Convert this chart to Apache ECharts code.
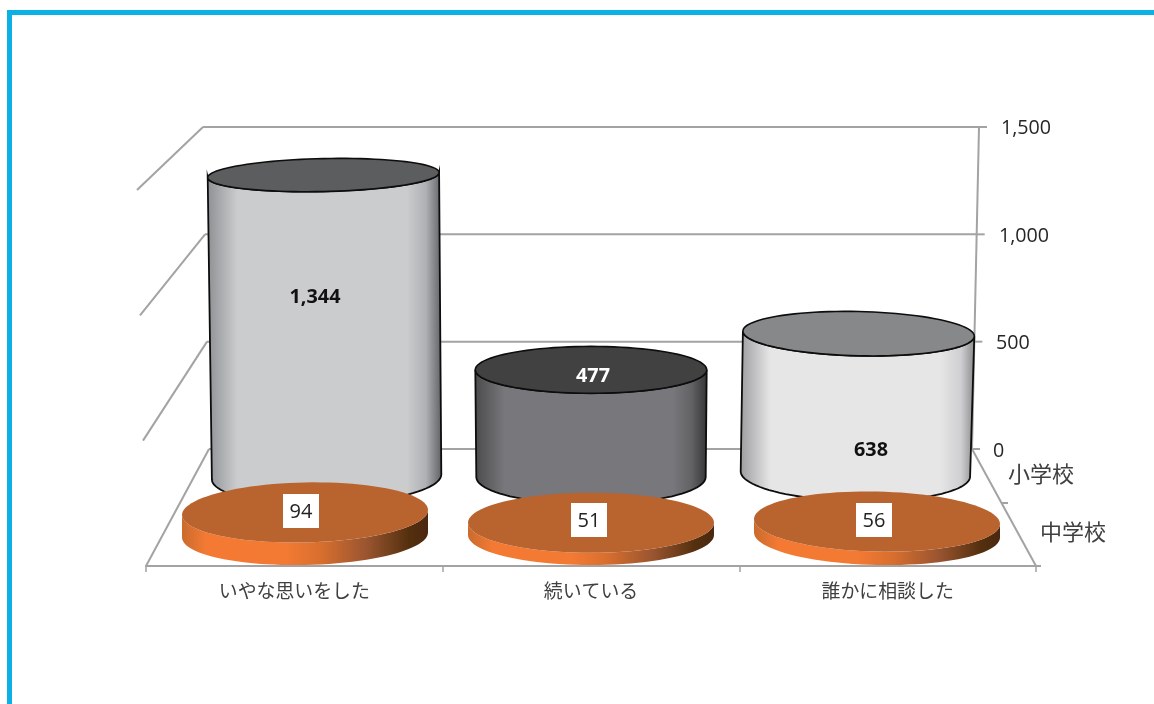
<!DOCTYPE html>
<html>
<head>
<meta charset="utf-8">
<style>html,body{margin:0;padding:0;background:#fff}#c{width:1154px;height:704px}</style>
<script src="https://cdn.jsdelivr.net/npm/echarts@6/dist/echarts.min.js"></script>
</head>
<body>
<div id="c"></div>
<script>
var categories = ['いやな思いをした', '続いている', '誰かに相談した'];
var elementary = [1344, 477, 638];
var juniorHigh = [94, 51, 56];
var depthLabels = ['中学校', '小学校'];
var valueTicks = [0, 500, 1000, 1500];

var FONT = '"Open Sans","Noto Sans CJK JP",sans-serif';
var JP = '"Noto Sans CJK JP","Noto Sans",sans-serif';
var GRID = '#a3a3a3';
var CENTER_X = 591;
var TILT = 0.0216 / 266;

var cylStyles = [
  {top:'#5c5d5f', txt:'#111', dx:-10, dy:122,
   side:[[0,'#8e8f92'],[0.13,'#cbccce'],[0.85,'#cbccce'],[0.93,'#b0b1b4'],[1,'#5e5f62']]},
  {top:'#414142', txt:'#fff', dx:2, dy:7,
   side:[[0,'#4a4a4c'],[0.13,'#78787c'],[0.85,'#78787c'],[0.93,'#636366'],[1,'#333335']]},
  {top:'#87888a', txt:'#111', dx:14, dy:117,
   side:[[0,'#9c9c9f'],[0.13,'#e6e6e7'],[0.85,'#e6e6e7'],[0.94,'#cfcfd1'],[1,'#88888b']]}
];
var discSide = [[0,'#c96b2e'],[0.1,'#f47a33'],[0.42,'#f37a33'],[0.56,'#d96f2e'],[0.75,'#9a5530'],[0.92,'#55300f'],[1,'#4a2710']];
var discLabelOffset = [[-4,-1.4],[-2,-2.8],[-3,-1.6]];

function arc(cx, cy, rx, ry, tilt, a, b, n) {
  var pts = [];
  for (var k = 0; k <= n; k++) {
    var t = a + (b - a) * k / n;
    var dx = rx * Math.cos(t);
    pts.push([cx + dx, cy + ry * Math.sin(t) + tilt * dx]);
  }
  return pts;
}
function gradient(stops) {
  return new echarts.graphic.LinearGradient(0, 0, 1, 0,
    stops.map(function (s) { return {offset: s[0], color: s[1]}; }));
}
function ryAt(y) { return 16.5 + (y - 176) * 0.0357; }

function renderWall(params, api) {
  var v = api.value(1);
  var y = api.coord([0, v])[1];
  var f = v / 1500;
  var backL = 209 - 6 * f, backR = 972 + 7 * f;
  var frontX = 146 - 9 * f;
  var frontY = 566 - (449 - y) * 376 / 322;
  var ln = function (x1, y1, x2, y2) {
    return {type:'line', shape:{x1:x1,y1:y1,x2:x2,y2:y2}, style:{stroke:GRID, lineWidth:2}};
  };
  var ch = [
    ln(backL, y, backR, y),
    ln(backR, y, backR + 8, y),
    ln(backL, y, frontX, frontY)
  ];
  if (params.dataIndex === 0) {
    var yTop = api.coord([0, 1500])[1];
    ch.push(ln(972, y, 979, yTop));
    ch.push(ln(972, y, 1036, 566));
    ch.push(ln(1036, 566, 1041, 566));
    ch.push(ln(1002, 503, 1008, 503));
  }
  return {type:'group', children: ch};
}

function renderCyl(params, api) {
  var i = params.dataIndex;
  var p = api.coord([i, api.value(1)]);
  var b = api.coord([i, 0]);
  var st = cylStyles[i];
  var off = p[0] - CENTER_X;
  var tilt = off * TILT;
  var topCx = p[0] + off * 0.006, botCx = p[0] - off * 0.006;
  var topY = p[1], botY = b[1] - (i === 2 ? 3 : 0);
  var topRx = 115.7, botRx = 114.7;
  var topRy = ryAt(topY), botRy = ryAt(botY);
  var side = arc(topCx, topY, topRx, topRy, tilt, Math.PI, 0, 48)
    .concat(arc(botCx, botY, botRx, botRy, tilt, 0, Math.PI, 48));
  return {type:'group', children:[
    {type:'polygon', shape:{points:side}, style:{fill:gradient(st.side), stroke:'#0d0d0d', lineWidth:1.8}},
    {type:'polygon', shape:{points:arc(topCx, topY, topRx, topRy, tilt, 0, Math.PI*2, 96)},
      style:{fill:st.top, stroke:'#0d0d0d', lineWidth:1.6}},
    {type:'text', style:{text:echarts.format.addCommas(api.value(1)), x:p[0]+st.dx, y:p[1]+st.dy,
      align:'center', verticalAlign:'middle', font:'bold 19.8px '+FONT, fill:st.txt}}
  ]};
}

function renderDisc(params, api) {
  var i = params.dataIndex;
  var p = api.coord([i, api.value(1)]);
  var b = api.coord([i, 0]);
  var tilt = (p[0] - CENTER_X) * (0.02 / 286);
  var rx = 123, ry = 30;
  var side = arc(p[0], p[1], rx, ry, tilt, Math.PI, 0, 48)
    .concat(arc(p[0], b[1], rx, ry, tilt, 0, Math.PI, 48));
  var o = discLabelOffset[i];
  var lx = p[0] + o[0], ly = p[1] + o[1];
  return {type:'group', children:[
    {type:'polygon', shape:{points:side}, style:{fill:gradient(discSide)}},
    {type:'polygon', shape:{points:arc(p[0], p[1], rx, ry, tilt, 0, Math.PI*2, 96)}, style:{fill:'#b9632f'}},
    {type:'rect', shape:{x:lx-18, y:ly-17, width:36, height:34}, style:{fill:'#fff'}},
    {type:'text', style:{text:String(api.value(1)), x:lx, y:ly+1.5, align:'center', verticalAlign:'middle',
      font:'20px '+FONT, fill:'#222'}}
  ]};
}

var chart = echarts.init(document.getElementById('c'), null, {renderer:'canvas'});
var hiddenCat = function (g) { return {type:'category', gridIndex:g, data:categories, show:false}; };
var hiddenVal = function (g) { return {type:'value', gridIndex:g, min:0, max:1500, show:false}; };

chart.setOption({
  animation:false,
  backgroundColor:'#fff',
  graphic:[
    {type:'rect', shape:{x:7,y:10,width:1147,height:5}, style:{fill:'#0bb1e5'}},
    {type:'rect', shape:{x:7,y:10,width:5,height:694}, style:{fill:'#0bb1e5'}}
  ],
  grid:[
    {left:192, width:798, top:127, height:322},   // back wall
    {left:192, width:798, top:140, height:337},   // back row
    {left:162, width:858, top:175, height:360},   // front row
    {left:146, width:890, top:200, height:366},   // front floor edge
    {left:700, width:300, top:445, height:116}    // depth axis
  ],
  xAxis:[
    hiddenCat(0), hiddenCat(1), hiddenCat(2),
    {type:'category', gridIndex:3, data:categories,
      axisLine:{show:true, lineStyle:{color:GRID, width:2}},
      axisTick:{show:true, length:6, lineStyle:{color:GRID, width:1.5}},
      axisLabel:{interval:0, margin:15, fontFamily:JP, fontSize:18.9, color:'#404040'}},
    {type:'value', gridIndex:4, show:false}
  ],
  yAxis:[
    {type:'value', gridIndex:0, min:0, max:1500, interval:500, position:'right',
      axisLine:{show:false}, axisTick:{show:false}, splitLine:{show:false},
      axisLabel:{margin:3, align:'left', fontFamily:FONT, fontSize:19.7, color:'#262626',
        formatter:function (v) {
          return '{t' + v + '|' + echarts.format.addCommas(v) + '}';
        },
        rich:{
          t0:{padding:[4,0,0,0]},
          t500:{padding:[4,0,0,3]},
          t1000:{padding:[4,0,0,6]},
          t1500:{padding:[2,0,0,8]}
        }}},
    hiddenVal(1), hiddenVal(2), hiddenVal(3),
    {type:'category', gridIndex:4, position:'right', data:depthLabels,
      axisLine:{show:false}, axisTick:{show:false},
      axisLabel:{margin:8, align:'left', fontFamily:JP, fontSize:22, color:'#404040',
        formatter:function (v, i) { return (i === 0 ? '{a|' : '{b|') + v + '}'; },
        rich:{a:{padding:[0,0,0,32]}, b:{padding:[0,0,0,0]}}}}
  ],
  series:[
    {type:'custom', name:'wall', xAxisIndex:0, yAxisIndex:0, z:1, silent:true,
      data:valueTicks.map(function (v) { return [0, v]; }), renderItem:renderWall},
    {type:'custom', name:depthLabels[1], xAxisIndex:1, yAxisIndex:1, z:2, silent:true,
      data:elementary.map(function (v, i) { return [i, v]; }), renderItem:renderCyl},
    {type:'custom', name:depthLabels[0], xAxisIndex:2, yAxisIndex:2, z:3, silent:true,
      data:juniorHigh.map(function (v, i) { return [i, v]; }), renderItem:renderDisc}
  ]
});
</script>
</body>
</html>
